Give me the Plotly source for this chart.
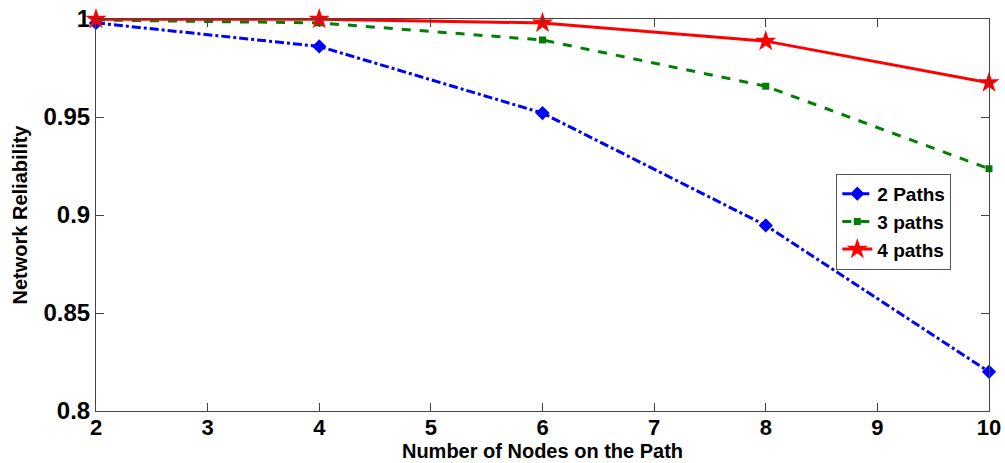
import plotly.graph_objects as go

# Network reliability versus number of nodes on a path
nodes = [2, 4, 6, 8, 10]
rel_2_paths = [0.998, 0.986, 0.952, 0.8947, 0.820]
rel_3_paths = [0.9995, 0.998, 0.9893, 0.9657, 0.9236]
rel_4_paths = [0.9999, 0.9999, 0.998, 0.9887, 0.9675]

x_ticks = [2, 3, 4, 5, 6, 7, 8, 9, 10]
y_ticks = [0.8, 0.85, 0.9, 0.95, 1.0]
y_tick_text = ["0.8", "0.85", "0.9", "0.95", "1"]

FONT = "Liberation Sans, Arial, sans-serif"

fig = go.Figure()
fig.add_trace(go.Scatter(
    x=nodes, y=rel_2_paths, name="2 Paths", mode="lines+markers",
    line=dict(color="#0000FF", width=3, dash="dashdot"),
    marker=dict(symbol="diamond", size=11, color="#0000FF"),
    cliponaxis=False,
))
fig.add_trace(go.Scatter(
    x=nodes, y=rel_3_paths, name="3 paths", mode="lines+markers",
    line=dict(color="#008000", width=3, dash="dash"),
    marker=dict(symbol="square", size=7, color="#008000"),
    cliponaxis=False,
))
fig.add_trace(go.Scatter(
    x=nodes, y=rel_4_paths, name="4 paths", mode="lines+markers",
    line=dict(color="#FF0000", width=3),
    marker=dict(symbol="star", size=16, color="#FF0000"),
    cliponaxis=False,
))

axis_common = dict(
    showgrid=False, zeroline=False, showline=True, linecolor="#444444",
    linewidth=1, mirror="ticks", ticks="inside", ticklen=8,
    tickcolor="#444444", automargin=False,
)

fig.update_xaxes(
    range=[2, 10], tickvals=x_ticks, ticktext=[str(v) for v in x_ticks],
    tickfont=dict(family=FONT, size=22, color="black", weight="bold"),
    ticklabelstandoff=-3,
    title=dict(text="Number of Nodes on the Path", standoff=0,
               font=dict(family=FONT, size=20, color="black", weight="bold")),
    **axis_common,
)
fig.update_yaxes(
    range=[0.8, 1.0], tickvals=y_ticks, ticktext=y_tick_text,
    tickfont=dict(family=FONT, size=24, color="black", weight="bold"),
    title=dict(text="Network Reliability", standoff=10,
               font=dict(family=FONT, size=20, color="black", weight="bold")),
    **axis_common,
)

fig.update_layout(
    width=1005, height=463,
    margin=dict(l=96, r=16, t=19, b=52),
    paper_bgcolor="white", plot_bgcolor="white",
    showlegend=True,
    legend=dict(
        x=0.829, y=0.605, xanchor="left", yanchor="top",
        bgcolor="white", bordercolor="#555555", borderwidth=1,
        font=dict(family=FONT, size=19, color="black", weight="bold"),
        tracegroupgap=0, itemsizing="trace",
    ),
)

fig.write_html("out.html")
